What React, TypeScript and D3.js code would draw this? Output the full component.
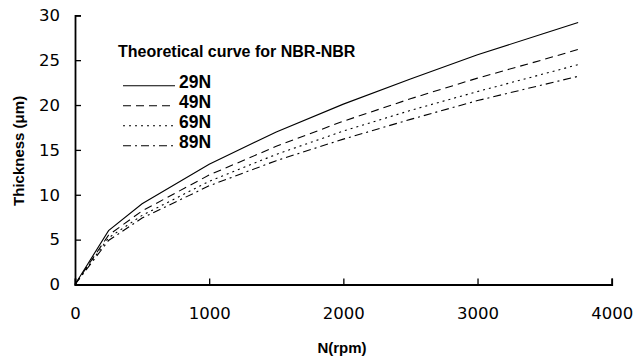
import { useEffect, useRef } from 'react';
import * as d3 from 'd3';

// rotational speed (rpm) where the theoretical curves were read
const speeds = [0, 250, 500, 1000, 1500, 2000, 2500, 3000, 3500, 3750];

// film thickness (µm) for each normal load
const load29 = [0, 6.0, 9.0, 13.4, 17.0, 20.1, 22.9, 25.6, 28.0, 29.2];
const load49 = [0, 5.5, 8.2, 12.2, 15.4, 18.2, 20.7, 23.0, 25.1, 26.2];
const load69 = [0, 5.2, 7.7, 11.5, 14.5, 17.1, 19.4, 21.5, 23.5, 24.5];
const load89 = [0, 4.9, 7.4, 11.0, 13.8, 16.2, 18.4, 20.5, 22.3, 23.2];

const seriesLabels = ['29N', '49N', '69N', '89N'];
const xTicks = [0, 1000, 2000, 3000, 4000];
const yTicks = [0, 5, 10, 15, 20, 25, 30];

const W = 635;
const H = 361;

export default function App() {
  const svgRef = useRef<SVGSVGElement>(null);

  useEffect(() => {
    if (!svgRef.current) return;
    const svg = d3.select(svgRef.current);
    svg.selectAll('*').remove();

    const x = d3.scaleLinear().domain([0, 4000]).range([75, 611.7]);
    const y = d3.scaleLinear().domain([0, 30]).range([284.5, 15.3]);

    const tickFont = '"DejaVu Sans", sans-serif';
    const labelFont = '"Liberation Sans", Arial, sans-serif';

    // left axis, ticks pointing inward
    const gy = svg.append('g').attr('transform', `translate(${x(0)},0)`)
      .call(d3.axisLeft(y).tickValues(yTicks).tickSize(-6).tickPadding(15).tickFormat(d3.format('d')));
    gy.select('.domain').attr('stroke', '#000').attr('stroke-width', 1.8);
    gy.selectAll('.tick line').attr('stroke', '#000').attr('stroke-width', 1.3);
    gy.selectAll('.tick text')
      .attr('fill', '#000')
      .style('font-family', tickFont)
      .style('font-size', '16.5px');

    // bottom axis
    const gx = svg.append('g').attr('transform', `translate(0,${y(0)})`)
      .call(d3.axisBottom(x).tickValues(xTicks).tickSize(-6).tickFormat(d3.format('d')));
    gx.select('.domain').attr('stroke', '#000').attr('stroke-width', 1.8);
    gx.selectAll('.tick line').attr('stroke', '#000').attr('stroke-width', 1.3);
    gx.selectAll('.tick text')
      .attr('fill', '#000')
      .attr('y', 34.8)
      .attr('dy', null)
      .style('font-family', tickFont)
      .style('font-size', '16.5px');

    // curves
    const dashes = [null, '8,5', '2,4', '8,4,2,4'];
    const allSeries = [load29, load49, load69, load89];
    const line = d3.line<number>()
      .x((_d, i) => x(speeds[i]))
      .y(d => y(d));

    allSeries.forEach((vals, i) => {
      svg.append('path')
        .datum(vals)
        .attr('d', line)
        .attr('fill', 'none')
        .attr('stroke', '#000')
        .attr('stroke-width', 1.1)
        .attr('stroke-dasharray', dashes[i]);
    });

    // legend
    svg.append('text')
      .attr('x', 118)
      .attr('y', 56.5)
      .style('font-family', labelFont)
      .style('font-weight', 'bold')
      .style('font-size', '16px')
      .text('Theoretical curve for NBR-NBR');

    seriesLabels.forEach((lab, i) => {
      const base = 88.3 + i * 20;
      svg.append('line')
        .attr('x1', 123).attr('x2', 175)
        .attr('y1', base - 2.5).attr('y2', base - 2.5)
        .attr('stroke', '#000')
        .attr('stroke-width', 1.1)
        .attr('stroke-dasharray', dashes[i]);
      svg.append('text')
        .attr('x', 179)
        .attr('y', base)
        .style('font-family', labelFont)
        .style('font-weight', 'bold')
        .style('font-size', '17.5px')
        .text(lab);
    });

    // axis titles
    svg.append('text')
      .attr('transform', `translate(24,${(y(0) + y(30)) / 2 + 1}) rotate(-90)`)
      .attr('text-anchor', 'middle')
      .style('font-family', labelFont)
      .style('font-weight', 'bold')
      .style('font-size', '15px')
      .text('Thickness (μm)');

    svg.append('text')
      .attr('x', 342)
      .attr('y', 353)
      .attr('text-anchor', 'middle')
      .style('font-family', labelFont)
      .style('font-weight', 'bold')
      .style('font-size', '15px')
      .text('N(rpm)');
  }, []);

  return (
    <svg
      ref={svgRef}
      width={W}
      height={H}
      style={{ position: 'absolute', left: 0, top: 0, background: '#fff' }}
    />
  );
}
